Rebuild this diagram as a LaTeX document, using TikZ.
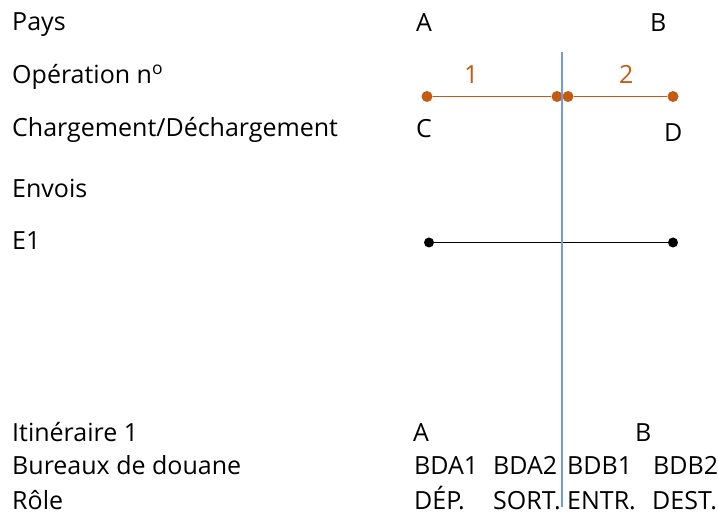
\documentclass[tikz,border=0pt]{standalone}
\usepackage{fontspec}
\setmainfont{Open Sans}
\definecolor{opcolor}{RGB}{197,90,17}
\definecolor{borderblue}{RGB}{114,155,222}
\begin{document}
\begin{tikzpicture}[x=1pt,y=-1pt,
  txt/.style={anchor=base west,inner sep=0pt,font=\fontsize{25}{29}\selectfont},
  optxt/.style={txt,text=opcolor},
  opdot/.style={circle,fill=opcolor,inner sep=0pt,minimum size=11},
  shipdot/.style={circle,fill=black,inner sep=0pt,minimum size=10}]
\useasboundingbox (0,0) rectangle (718,518);
% left column
\foreach \t/\y [count=\i] in {Pays/31,{Op\'eration n\textsuperscript{o}}/84,{Chargement/D\'echargement}/137,Envois/198,E1/250,{Itin\'eraire 1}/442,{Bureaux de douane}/475,{R\^ole}/510}
 \node[txt] (lab\i) at (12,\y) {\t};
% countries and places
\node[txt] (paysA) at (416,32) {A};
\node[txt] (paysB) at (650,32) {B};
\node[txt] (lieuC) at (416,138) {C};
\node[txt] (lieuD) at (664,142) {D};
% operations
\node[opdot] (c1) at (427,96.5) {};
\node[opdot] (c2) at (557,96.5) {};
\node[opdot] (c3) at (568,96.5) {};
\node[opdot] (c4) at (673,96.5) {};
\draw[opcolor,line width=1.3] (c1)--(c2) (c3)--(c4);
\node[optxt] (op1) at (464,84) {1};
\node[optxt] (op2) at (619,84) {2};
% shipment
\node[shipdot] (e1a) at (429,242.5) {};
\node[shipdot] (e1b) at (673,242.5) {};
\draw[line width=1.3] (e1a)--(e1b);
% route
\node[txt] (itA) at (413,442) {A};
\node[txt] (itB) at (635,442) {B};
\foreach \t/\x [count=\i] in {BDA1/414,BDA2/493,BDB1/567,BDB2/653}
 \node[txt] (bd\i) at (\x,475) {\t};
\foreach \t/\x [count=\i] in {{D\'EP.}/414,SORT./493,ENTR./567,DEST./652}
 \node[txt] (role\i) at (\x,510) {\t};
% border
\coordinate (frtop) at (562,52);
\coordinate (frbot) at (562,507);
\draw[borderblue,line width=1.2] (frtop)--(frbot);
\end{tikzpicture}
\end{document}
